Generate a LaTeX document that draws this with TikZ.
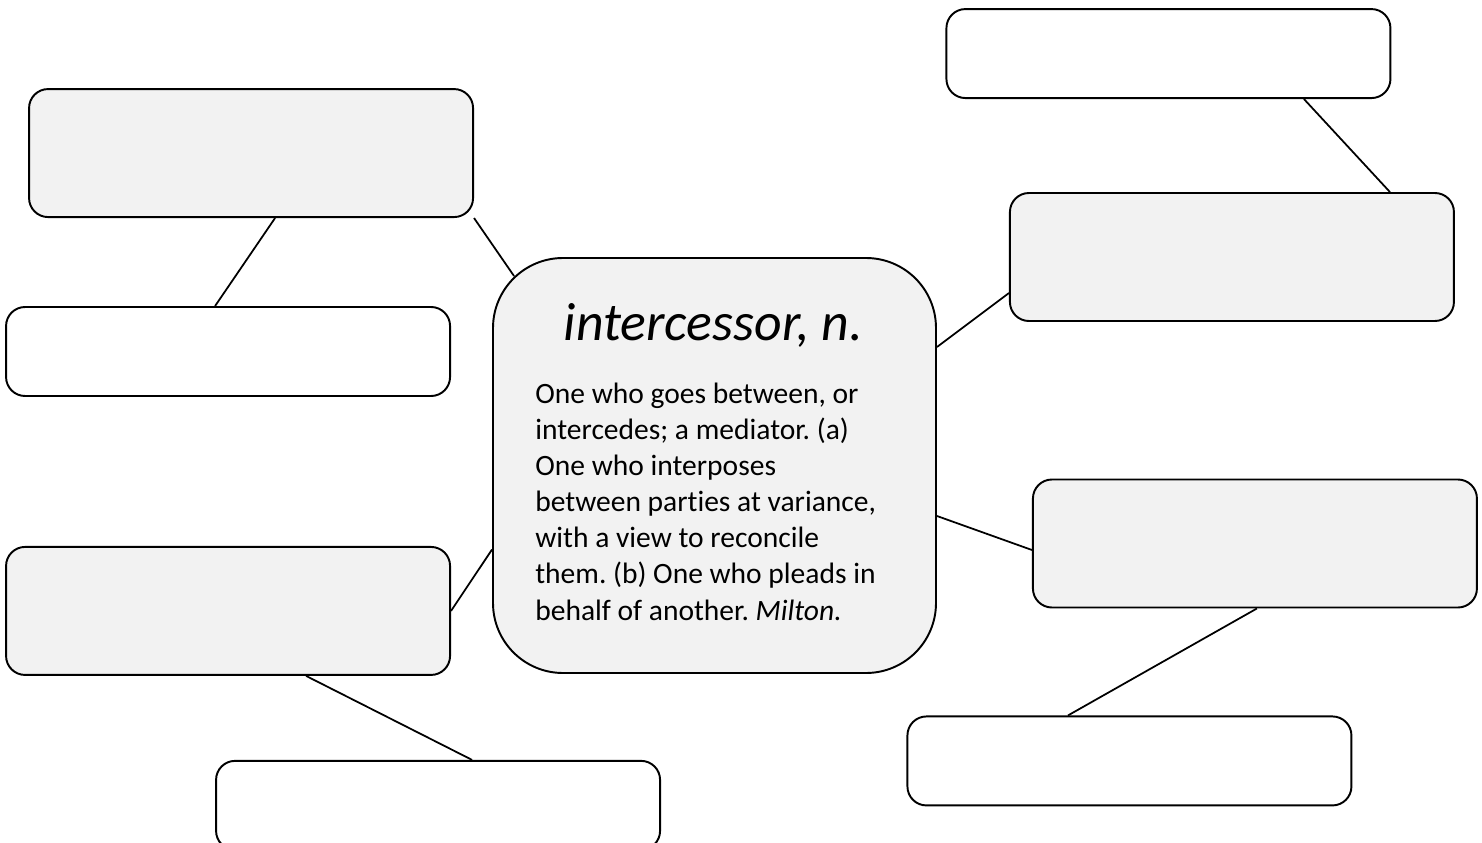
\documentclass[tikz,border=0pt]{standalone}
\usepackage{fontspec}
\setmainfont{Carlito}[Ligatures=NoCommon]
\usetikzlibrary{positioning,calc}
\definecolor{boxgray}{HTML}{F2F2F2}
\frenchspacing

\begin{document}
\begin{tikzpicture}[
graybox/.style={rectangle, rounded corners=0.38cm, draw=black, fill=boxgray, line width=1.1pt, minimum width=8.88cm, minimum height=2.56cm},
whitebox/.style={rectangle, rounded corners=0.38cm, draw=black, fill=white, line width=1.1pt, minimum width=8.88cm, minimum height=1.78cm},
termbox/.style={rectangle, rounded corners=1.4cm, draw=black, fill=boxgray, line width=1.1pt, minimum width=8.86cm, minimum height=8.3cm},
link/.style={line width=1pt},
]
\useasboundingbox (0,0) rectangle (29.64,-16.86);
%Nodes
\node[termbox]      (term)      at (14.29,-9.31)                                {};
\node[graybox]      (tlgray)    [above left=0.78cm and 0.36cm of term.north west] {};
\node[whitebox]     (leftwhite) [below=1.76cm of tlgray, xshift=-0.46cm]       {};
\node[graybox]      (leftgray)  [below=2.98cm of leftwhite]                    {};
\node[whitebox]     (botwhite)  [below=1.68cm of leftgray, xshift=4.2cm]       {};
\node[graybox]      (rightgray) [right=1.44cm of term, yshift=4.17cm]          {};
\node[whitebox]     (trwhite)   [above=1.86cm of rightgray, xshift=-1.27cm]    {};
\node[graybox]      (rlgray)    [right=1.9cm of term, yshift=-1.56cm]          {};
\node[whitebox]     (brwhite)   [below=2.14cm of rlgray, xshift=-2.51cm]       {};
\node[anchor=base, inner sep=0, font=\fontsize{30.6}{36}\selectfont\itshape] (title) at (14.27,-6.80) {intercessor, n.};
\node[anchor=north west, inner sep=0, align=left, font=\fontsize{16.8}{20.5}\selectfont] (defn) at (10.70,-7.66)
{One who goes between, or\\intercedes; a mediator. (a)\\One who interposes\\between parties at variance,\\with a view to reconcile\\them. (b) One who pleads in\\behalf of another. \textit{Milton.}};

%Lines
\draw[link] (tlgray.south east) -- ($(term.north west)+(0.44,-0.38)$);
\draw[link] ($(tlgray.south)+(0.48,0)$) -- ($(leftwhite.north)+(-0.26,0)$);
\draw[link] (leftgray.east) -- ($(term.west)+(0,-1.68)$);
\draw[link] ($(leftgray.south)+(1.56,0)$) -- ($(botwhite.north)+(0.68,0)$);
\draw[link] ($(term.east)+(0,2.37)$) -- ($(rightgray.west)+(0,-0.72)$);
\draw[link] ($(trwhite.south)+(2.71,0)$) -- ($(rightgray.north)+(3.16,0)$);
\draw[link] ($(term.east)+(0,-1.01)$) -- ($(rlgray.west)+(0,-0.13)$);
\draw[link] ($(rlgray.south)+(0.04,0)$) -- ($(brwhite.north)+(-1.23,0)$);

\end{tikzpicture}
\end{document}
